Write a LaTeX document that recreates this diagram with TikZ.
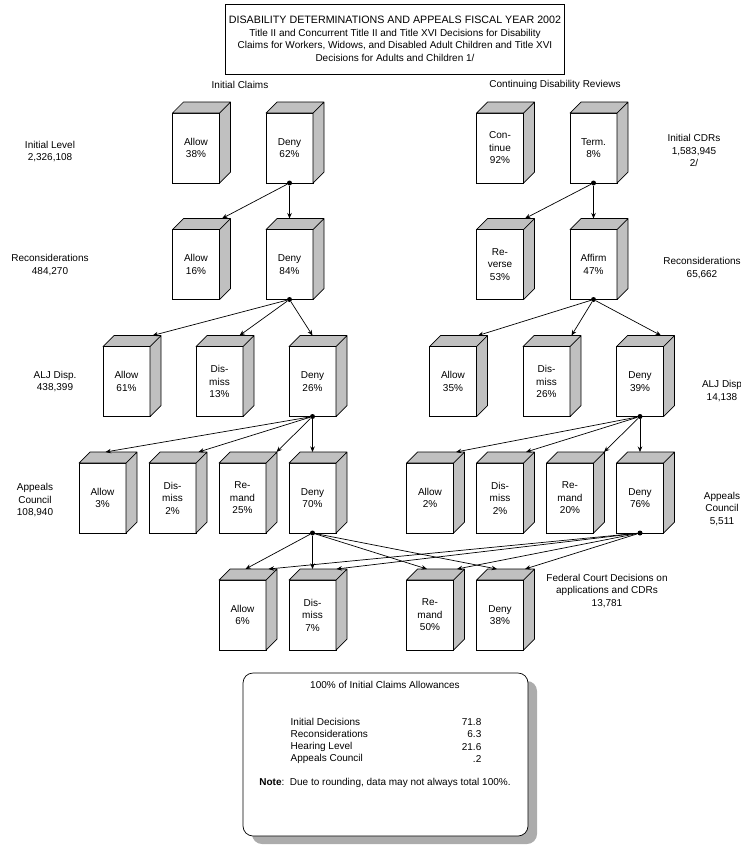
\documentclass[tikz,border=0pt]{standalone}
\usepackage{fontspec}
\setmainfont{Liberation Sans}
\usetikzlibrary{arrows.meta,positioning,shadows}
\definecolor{face}{HTML}{C0C0C0}

\begin{document}
\begin{tikzpicture}[
  x=1pt, y=-1pt, >={Stealth[length=5.5pt,width=4.5pt]}, line width=0.7pt,
  font=\fontsize{10}{12.5}\selectfont,
  cube/.style={draw, fill=white, minimum width=47pt, minimum height=70pt,
    inner sep=1pt, outer sep=0pt, align=center},
  lbl/.style={align=center},
  joint/.style={circle, fill, inner sep=0pt, minimum size=5pt},
]
\useasboundingbox (0,0) rectangle (741,846);

\node[draw, minimum width=338pt, minimum height=70pt, align=center] (title) at (395,39)
  {{\fontsize{10.7}{12.5}\selectfont DISABILITY DETERMINATIONS AND APPEALS FISCAL YEAR 2002}\\
   Title II and Concurrent Title II and Title XVI Decisions for Disability\\
   Claims for Workers, Widows, and Disabled Adult Children and Title XVI\\
   Decisions for Adults and Children 1/};
\node (hdrIC) at (240,85) {Initial Claims};
\node (hdrCDR) at (555,85) {Continuing Disability Reviews};

% initial claims
\node[cube] (IA) at (196,148) {Allow\\38\%};
\node[cube, right=46.5pt of IA] (ID) {Deny\\62\%};
\node[cube] (RA) at (196,264.5) {Allow\\16\%};
\node[cube, right=46.5pt of RA] (RD) {Deny\\84\%};
\node[cube] (HA) at (126.5,381.5) {Allow\\61\%};
\node[cube, right=46pt of HA] (HM) {Dis-\\miss\\13\%};
\node[cube, right=46pt of HM] (HD) {Deny\\26\%};
\node[cube] (AA) at (102.5,498) {Allow\\3\%};
\node[cube, right=23pt of AA] (AM) {Dis-\\miss\\2\%};
\node[cube, right=23pt of AM] (AR) {Re-\\mand\\25\%};
\node[cube, right=23pt of AR] (AD) {Deny\\70\%};

% continuing disability reviews
\node[cube] (CC) at (500,148) {Con-\\tinue\\92\%};
\node[cube, right=46.5pt of CC] (CT) {Term.\\8\%};
\node[cube] (CR) at (500,264.5) {Re-\\verse\\53\%};
\node[cube, right=46.5pt of CR] (CF) {Affirm\\47\%};
\node[cube] (CHA) at (453,381.5) {Allow\\35\%};
\node[cube, right=46.5pt of CHA] (CHM) {Dis-\\miss\\26\%};
\node[cube, right=46.5pt of CHM] (CHD) {Deny\\39\%};
\node[cube] (CAA) at (430,498) {Allow\\2\%};
\node[cube, right=23pt of CAA] (CAM) {Dis-\\miss\\2\%};
\node[cube, right=23pt of CAM] (CAR) {Re-\\mand\\20\%};
\node[cube, right=23pt of CAR] (CAD) {Deny\\76\%};

% federal court
\node[cube] (FA) at (242.5,615) {Allow\\6\%};
\node[cube, right=23pt of FA] (FM) {Dis-\\miss\\7\%};
\node[cube] (FR) at (430,615) {Re-\\mand\\50\%};
\node[cube, right=23pt of FR] (FD) {Deny\\38\%};

\foreach \n in {IA,ID,CC,CT,RA,RD,CR,CF,HA,HM,HD,CHA,CHM,CHD,
                AA,AM,AR,AD,CAA,CAM,CAR,CAD,FA,FM,FR,FD}
  \filldraw[fill=face, line join=round] (\n.north west) -- ++(11pt,11pt)
    -- ([shift={(11pt,11pt)}]\n.north east) -- ([shift={(11pt,11pt)}]\n.south east)
    -- (\n.south east) -- (\n.north east) -- cycle
    (\n.north east) -- ++(11pt,11pt);

\foreach \n in {ID,CT,RD,CF,HD,CHD,AD,CAD}
  \node[joint] (j\n) at (\n.south) {};

\foreach \src/\tgts in {
    jID/{RA/26,RD/0}, jCT/{CR/25,CF/0},
    jRD/{HA/26,HM/20,HD/0}, jCF/{CHA/25,CHM/25,CHD/21},
    jHD/{AA/3,AM/26,AR/34,AD/0}, jCHD/{CAA/26,CAM/26,CAR/34,CAD/0},
    jAD/{FA/3,FM/0,FR/-3,FD/-3}, jCAD/{FA/26,FM/24,FR/27,FD/25}}
  \foreach \t/\dx in \tgts
    \draw[->] (\src) -- ([xshift=\dx pt, yshift=11pt]\t.north);

% level labels
\node[lbl] (lvlIL) at (50,151.5) {Initial Level\\2,326,108};
\node[lbl] (lvlRC) at (50,265) {Reconsiderations\\484,270};
\node[lbl] (lvlALJ) at (55,381.5) {ALJ Disp.\\438,399};
\node[lbl] (lvlAC) at (35,500.5) {Appeals\\Council\\108,940};
\node[lbl] (lvlCDR) at (694,150.5) {Initial CDRs\\1,583,945\\2/};
\node[lbl] (lvlCRC) at (702,268) {Reconsiderations\\65,662};
\node[lbl] (lvlCALJ) at (722,391) {ALJ Disp\\14,138};
\node[lbl] (lvlCAC) at (722,509) {Appeals\\Council\\5,511};
\node[lbl] (lvlFC) at (607,591) {Federal Court Decisions on\\applications and CDRs\\13,781};

% allowances summary
\node[draw, fill=white, rounded corners=10pt, minimum width=285pt, minimum height=163pt,
  drop shadow={shadow xshift=9pt, shadow yshift=-8pt, fill=gray!65, opacity=1}]
  (summary) at (385.5,754.5) {};
\node (sumTitle) at (385,685) {100\% of Initial Claims Allowances};
\foreach \lab/\val [count=\i] in {Initial Decisions/71.8, Reconsiderations/6.3,
    Hearing Level/21.6, Appeals Council/.2} {
  \node[anchor=west] (sumRow\i) at (287,709.5+12.4*\i) {\lab};
  \node[anchor=east] (sumVal\i) at (485,709.5+12.4*\i) {\val};
}
\node (note) at (385,783) {\textbf{Note}:\ \ Due to rounding, data may not always total 100\%.};
\end{tikzpicture}
\end{document}
